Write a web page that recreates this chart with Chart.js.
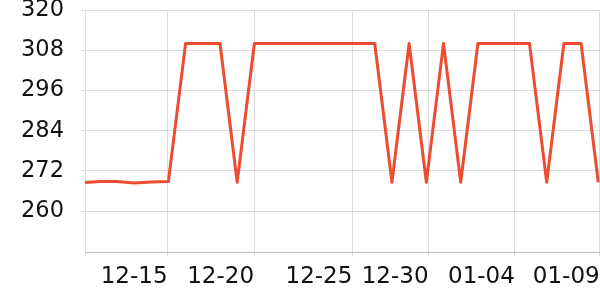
<!DOCTYPE html>
<html>
<head>
<meta charset="utf-8">
<script src="https://cdn.jsdelivr.net/npm/chart.js"></script>
<style>
  html, body { margin: 0; padding: 0; background: #fff; }
</style>
</head>
<body>
<canvas id="chart" width="600" height="300"></canvas>
<script>
// one point per day, 12-10 .. 01-09
var dates = ['12-10','12-11','12-12','12-13','12-14','12-15','12-16','12-17','12-18','12-19',
  '12-20','12-21','12-22','12-23','12-24','12-25','12-26','12-27','12-28','12-29',
  '12-30','12-31','01-01','01-02','01-03','01-04','01-05','01-06','01-07','01-08','01-09'];
var values = [268.5, 268.8, 268.8, 268.4, 268.7, 268.8, 310, 310, 310, 268.6,
  310, 310, 310, 310, 310, 310, 310, 310, 268.6, 310,
  268.6, 310, 268.6, 310, 310, 310, 310, 268.6, 310, 310, 268.6];

// x tick labels and where they sit (in days from 12-10)
var xMin = 0.15;
var xMax = 30.1;
var xTickLabels = ['', '12-15', '12-20', '12-25', '12-30', '01-04', '01-09'];
var xTickDays = [xMin, 4.95, 9.98, 15.7, 20.13, 25.15, 30.08];
var yTicks = [260, 272, 284, 296, 308, 320];

var points = [];
for (let i = 0; i < dates.length; i++) {
  points.push({ x: i, y: values[i] });
}

var fontFamily = "'DejaVu Sans', 'Verdana', sans-serif";

new Chart(document.getElementById('chart'), {
  type: 'line',
  data: {
    datasets: [{
      data: points,
      borderColor: '#ee4c2f',
      borderWidth: 3,
      borderJoinStyle: 'round',
      pointRadius: 0,
      tension: 0,
      fill: false
    }]
  },
  options: {
    responsive: false,
    animation: false,
    plugins: { legend: { display: false }, tooltip: { enabled: false } },
    layout: { padding: 0 },
    scales: {
      x: {
        type: 'linear',
        min: xMin,
        max: xMax,
        afterBuildTicks: function (scale) {
          scale.ticks = xTickDays.map(function (d) { return { value: d }; });
        },
        afterFit: function (scale) {
          scale.height = 48;
          scale.paddingLeft = 0;
          scale.paddingRight = 0;
        },
        ticks: {
          autoSkip: false,
          maxRotation: 0,
          align: 'end',
          padding: 7,
          color: '#111',
          font: { family: fontFamily, size: 23 },
          callback: function (value, index) { return xTickLabels[index]; }
        },
        grid: { color: '#dcdcdc', tickLength: 4, lineWidth: 1 },
        border: { color: '#bdbdbd', width: 1 }
      },
      y: {
        min: 247.8,
        max: 320,
        afterBuildTicks: function (scale) {
          scale.ticks = yTicks.map(function (v) { return { value: v }; });
        },
        afterFit: function (scale) {
          scale.width = 85;
          scale.paddingTop = 10;
          scale.paddingBottom = 0;
        },
        ticks: {
          padding: 17,
          color: '#111',
          font: { family: fontFamily, size: 22.5 }
        },
        grid: { color: '#dcdcdc', tickLength: 4, lineWidth: 1 },
        border: { color: '#dcdcdc', width: 1 }
      }
    }
  }
});
</script>
</body>
</html>
